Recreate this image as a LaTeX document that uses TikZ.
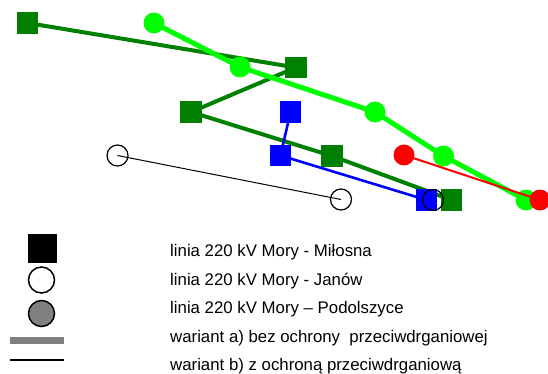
\documentclass[tikz,border=0pt]{standalone}
\usepackage{fontspec}
\setmainfont{Liberation Sans}
\definecolor{dgreen}{RGB}{0,128,0}
\definecolor{lgreen}{RGB}{0,255,0}
\definecolor{mgray}{RGB}{128,128,128}
\begin{document}
\begin{tikzpicture}[x=1pt,y=-1pt,
  sq/.style={rectangle,minimum size=21.5pt,inner sep=0pt,outer sep=0pt},
  dot/.style={circle,minimum size=21pt,inner sep=0pt,outer sep=0pt},
  dgsq/.style={sq,fill=dgreen},
  bsq/.style={sq,fill=blue},
  lgdot/.style={dot,fill=lgreen},
  rdot/.style={dot,fill=red},
  odot/.style={dot,draw=black,line width=1.2pt},
  dgline/.style={dgreen,line width=4pt},
  lgline/.style={lgreen,line width=5pt},
  bline/.style={blue,line width=2.6pt},
  rline/.style={red,line width=2pt},
  kline/.style={black,line width=1pt},
  lab/.style={anchor=base west,inner sep=0pt,font=\fontsize{16.8}{20}\selectfont}
]
\useasboundingbox (0,0) rectangle (548,374);
% dark green (line 1, variant a)
\coordinate (g1) at (27.5,23);
\coordinate (g2) at (296,67.5);
\coordinate (g3) at (191,112);
\coordinate (g4) at (332,156);
\coordinate (g5) at (451.5,200);
\draw[dgline] (g1) -- (g2) -- (g3) -- (g4) -- (g5);
\foreach \n in {g1,g2,g3,g4,g5} \node[dgsq] at (\n) {};
% blue (line 1, variant b)
\coordinate (b1) at (290.5,112);
\coordinate (b2) at (280.5,155.5);
\coordinate (b3) at (426.5,200);
\draw[bline] (b1) -- (b2) -- (b3);
\foreach \n in {b1,b2,b3} \node[bsq] at (\n) {};
% black open circles
\node[odot] (o1) at (117.5,155.5) {};
\node[odot] (o2) at (341,199.5) {};
\node[odot] (o3) at (433,200) {};
\draw[kline] (o1.center) -- (o2.center);
% light green
\node[lgdot] (l1) at (154,23) {};
\node[lgdot] (l2) at (240,67) {};
\node[lgdot] (l3) at (375,112) {};
\node[lgdot] (l4) at (443.5,156) {};
\node[lgdot] (l5) at (526,200) {};
\draw[lgline] (l1.center) -- (l2.center) -- (l3.center) -- (l4.center) -- (l5.center);
% red
\node[rdot] (r1) at (404,155) {};
\node[rdot] (r2) at (540,200) {};
\draw[rline] (r1.center) -- (r2.center);
% legend
\node[rectangle,fill=black,minimum size=29pt,inner sep=0pt] (k1) at (42,248) {};
\node[circle,draw=black,fill=white,line width=1.5pt,minimum size=26pt,inner sep=0pt] (k2) at (41.5,280) {};
\node[circle,draw=black,fill=mgray,line width=1.5pt,minimum size=26pt,inner sep=0pt] (k3) at (41.5,313.5) {};
\fill[mgray] (10,337) rectangle (64,344);
\draw[black,line width=1.2pt] (10,360) -- (64,360);
\node[lab] (t1) at (170,256.5) {linia 220 kV Mory - Miłosna};
\node[lab] (t2) at (170,285) {linia 220 kV Mory - Janów};
\node[lab] (t3) at (170,313.5) {linia 220 kV Mory – Podolszyce};
\node[lab] (t4) at (170,342) {wariant a) bez ochrony\ \ przeciwdrganiowej};
\node[lab] (t5) at (170,370) {wariant b) z ochroną przeciwdrganiową};
\end{tikzpicture}
\end{document}
